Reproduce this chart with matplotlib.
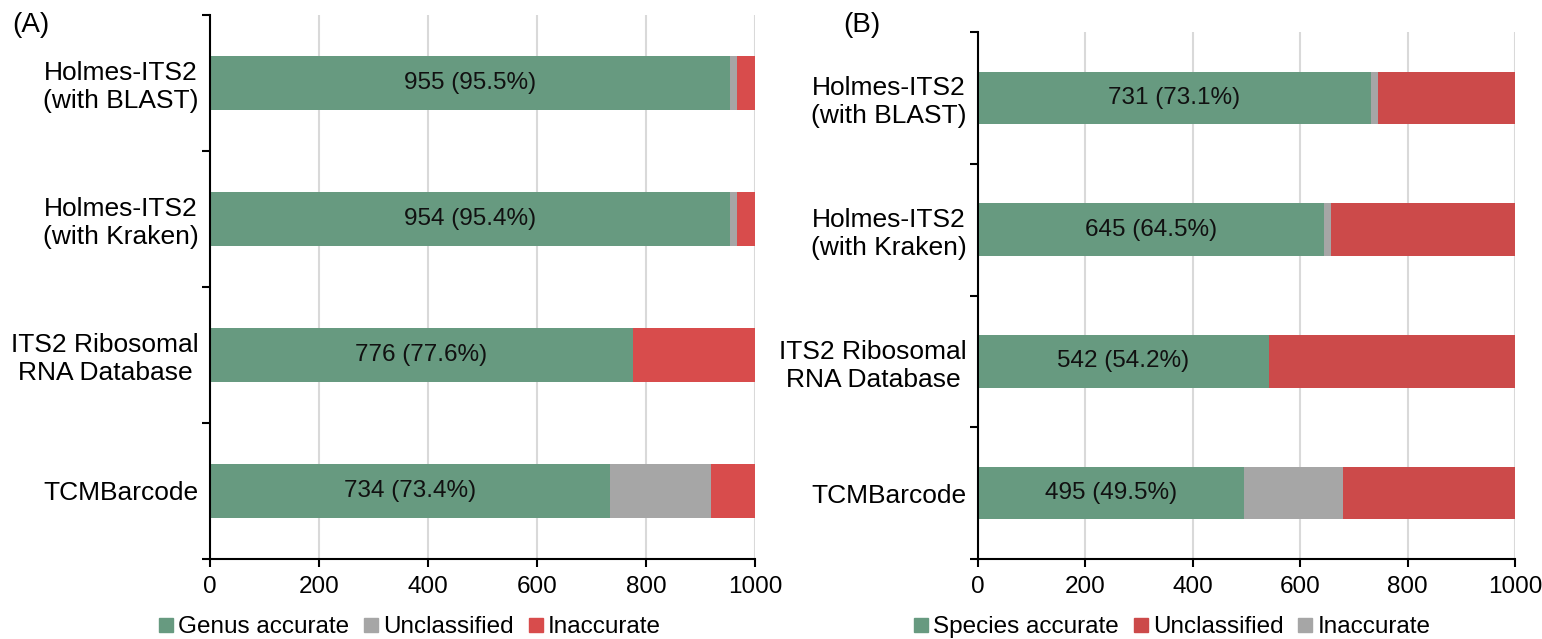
import matplotlib
matplotlib.use("Agg")
import matplotlib.pyplot as plt
from matplotlib.lines import Line2D
import numpy as np

plt.rcParams['font.family'] = ['Liberation Sans', 'DejaVu Sans']

categories = ["Holmes-ITS2\n(with BLAST)", "Holmes-ITS2\n(with Kraken)",
              "ITS2 Ribosomal\nRNA Database", "TCMBarcode"]

# Panel A (genus level)
genus_accurate = [955, 954, 776, 734]
genus_pct = [95.5, 95.4, 77.6, 73.4]
a_unclassified = [12, 13, 0, 186]
a_inaccurate = [33, 33, 224, 80]

# Panel B (species level)
species_accurate = [731, 645, 542, 495]
species_pct = [73.1, 64.5, 54.2, 49.5]
b_gray = [13, 12, 0, 185]
b_red = [256, 343, 458, 320]

xticks = [0, 200, 400, 600, 800, 1000]

GREEN = '#679a80'
GRAY = '#a6a6a6'
RED_A = '#d84c4c'
RED_B = '#cc4a4a'
FS = 17.5
FS_Y = 19

fig = plt.figure(figsize=(15.42, 6.39), dpi=100)
axA = fig.add_axes([210/1542, 1-559/639, 545/1542, (559-15)/639])
axB = fig.add_axes([978/1542, 1-559/639, 537/1542, (559-32)/639])


def draw(ax, acc, pct, s2, s3, c2, c3):
    y = np.arange(len(categories))
    acc = np.array(acc); s2 = np.array(s2); s3 = np.array(s3)
    ax.barh(y, acc, height=0.40, color=GREEN, zorder=3)
    ax.barh(y, s2, left=acc, height=0.40, color=c2, zorder=3)
    ax.barh(y, s3, left=acc + s2, height=0.40, color=c3, zorder=3)
    for i in range(len(y)):
        ax.text(acc[i] / 2, y[i], f"{acc[i]} ({pct[i]}%)", ha='center',
                va='center', fontsize=FS, color='#111111', zorder=4)
    ax.set_xlim(0, 1000)
    ax.set_ylim(len(categories) - 0.5, -0.5)
    ax.set_xticks(xticks)
    ax.set_xticklabels([str(t) for t in xticks], fontsize=FS)
    ax.set_yticks(np.arange(len(categories) + 1) - 0.5)
    ax.set_yticklabels([])
    ax.set_yticks(y, minor=True)
    ax.set_yticklabels(categories, minor=True, fontsize=FS_Y, multialignment='center')
    ax.tick_params(axis='y', which='minor', length=0, pad=8)
    ax.tick_params(axis='y', which='major', length=6, width=1.5, direction='out')
    ax.tick_params(axis='x', length=6, width=1.5, direction='out', pad=6)
    ax.grid(axis='x', color='#d9d9d9', linewidth=1.5, zorder=0)
    ax.set_axisbelow(True)
    for s in ['top', 'right']:
        ax.spines[s].set_visible(False)
    for s in ['left', 'bottom']:
        ax.spines[s].set_linewidth(1.5)
        ax.spines[s].set_color('black')
        ax.spines[s].set_zorder(5)


draw(axA, genus_accurate, genus_pct, a_unclassified, a_inaccurate, GRAY, RED_A)
draw(axB, species_accurate, species_pct, b_gray, b_red, GRAY, RED_B)


def sq(c):
    return Line2D([], [], marker='s', linestyle='none', markersize=10,
                  markerfacecolor=c, markeredgecolor=c)


FS_L = 17.5
fig.legend([sq(GREEN), sq(GRAY), sq(RED_A)],
           ["Genus accurate", "Unclassified", "Inaccurate"],
           loc='center', bbox_to_anchor=(410/1542, 1-627/639), ncol=3,
           frameon=False, fontsize=FS_L, handlelength=0.6, handletextpad=0.2,
           columnspacing=0.6, borderpad=0)
fig.legend([sq(GREEN), sq(RED_B), sq(GRAY)],
           ["Species accurate", "Unclassified", "Inaccurate"],
           loc='center', bbox_to_anchor=(1172/1542, 1-627/639), ncol=3,
           frameon=False, fontsize=FS_L, handlelength=0.6, handletextpad=0.2,
           columnspacing=0.6, borderpad=0)

fig.text(12/1542, 1-25/639, "(A)", fontsize=20, va='center', ha='left')
fig.text(843/1542, 1-25/639, "(B)", fontsize=20, va='center', ha='left')

fig.savefig("out.png", dpi=100)
